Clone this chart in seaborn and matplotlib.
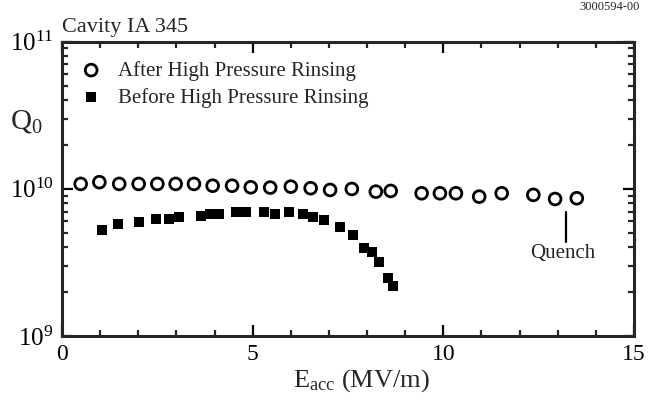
import matplotlib
matplotlib.use("Agg")
import matplotlib.pyplot as plt
import seaborn as sns
import pandas as pd
from matplotlib.ticker import MultipleLocator, LogLocator, NullFormatter, FixedLocator, FixedFormatter

# ---- data ----
E_after = [0.49, 0.98, 1.50, 2.01, 2.50, 2.98, 3.46, 3.95, 4.46, 4.95,
           5.46, 6.00, 6.52, 7.03, 7.60, 8.23, 8.62, 9.43, 9.91, 10.33,
           10.94, 11.53, 12.36, 12.93, 13.50]
Q_after = [1.08e10, 1.11e10, 1.08e10, 1.08e10, 1.08e10, 1.08e10, 1.08e10, 1.05e10, 1.05e10, 1.025e10,
           1.02e10, 1.035e10, 1.01e10, 0.983e10, 0.998e10, 0.957e10, 0.968e10, 0.933e10, 0.933e10, 0.933e10,
           0.885e10, 0.933e10, 0.91e10, 0.853e10, 0.863e10]

E_before = [1.04, 1.46, 2.01, 2.47, 2.80, 3.06, 3.64, 3.88, 4.11, 4.56, 4.82,
            5.30, 5.59, 5.94, 6.33, 6.57, 6.87, 7.29, 7.62, 7.92, 8.14, 8.31, 8.54, 8.67]
Q_before = [5.26e9, 5.78e9, 5.99e9, 6.25e9, 6.25e9, 6.48e9, 6.58e9, 6.75e9, 6.75e9, 7.0e9, 7.0e9,
            6.93e9, 6.72e9, 7.0e9, 6.75e9, 6.48e9, 6.15e9, 5.54e9, 4.86e9, 3.99e9, 3.74e9, 3.20e9, 2.47e9, 2.20e9]

label_after = "After High Pressure Rinsing"
label_before = "Before High Pressure Rinsing"
x_ticks = [0, 5, 10, 15]
x_tick_labels = ["0", "5", "10", "15"]
y_ticks = [1e9, 1e10, 1e11]
y_tick_labels = [r"$10^{9}$", r"$10^{10}$", r"$10^{11}$"]

sns.set_style("ticks")
plt.rcParams["font.family"] = ["Liberation Serif", "DejaVu Serif"]
plt.rcParams["mathtext.fontset"] = "custom"
plt.rcParams["mathtext.rm"] = "Liberation Serif"
plt.rcParams["mathtext.it"] = "Liberation Serif:italic"

df_after = pd.DataFrame({"E": E_after, "Q": Q_after})
df_before = pd.DataFrame({"E": E_before, "Q": Q_before})

fig = plt.figure(figsize=(6.5, 4.0), dpi=100)
ax = fig.add_axes([0.0954, 0.16, 0.88, 0.7358])

sns.scatterplot(data=df_after, x="E", y="Q", ax=ax, marker="o", s=72,
                facecolors="none", edgecolor="black", linewidth=2.0,
                label=label_after, zorder=3)
sns.scatterplot(data=df_before, x="E", y="Q", ax=ax, marker="s", s=50,
                color="black", linewidth=0, label=label_before, zorder=3)

ax.set_yscale("log")
ax.set_xlim(0, 15)
ax.set_ylim(1e9, 1e11)

ax.xaxis.set_major_locator(FixedLocator(x_ticks))
ax.xaxis.set_major_formatter(FixedFormatter(x_tick_labels))
ax.xaxis.set_minor_locator(MultipleLocator(1))
ax.yaxis.set_major_locator(FixedLocator(y_ticks))
ax.yaxis.set_major_formatter(FixedFormatter(y_tick_labels))
ax.yaxis.set_minor_locator(LogLocator(base=10, subs=range(2, 10), numticks=20))
ax.yaxis.set_minor_formatter(NullFormatter())

for s in ax.spines.values():
    s.set_linewidth(2.2)
    s.set_visible(True)
ax.tick_params(which="major", direction="in", length=8, width=1.6,
               top=True, right=True, labelsize=17, pad=6, colors="black")
ax.tick_params(axis="y", which="major", labelsize=18)
ax.tick_params(which="minor", direction="in", length=4.5, width=1.6,
               top=True, right=True)

ax.set_xlabel(r"E$_{\mathrm{acc}}$ (MV/m)", fontsize=19)
ax.xaxis.set_label_coords(0.523, -0.105)
ax.set_ylabel(r"Q$_0$", fontsize=21, rotation=0, ha="center", va="center")
ax.yaxis.set_label_coords(-0.062, 0.73)

ax.text(0.0, 1.015, "Cavity IA 345", transform=ax.transAxes, fontsize=16,
        ha="left", va="bottom")

# Quench annotation
ax.plot([13.22, 13.22], [7.0e9, 4.37e9], color="black", lw=1.6)
ax.text(13.14, 3.61e9, "Quench", fontsize=15, ha="center", va="center")

leg = ax.legend(loc="upper left", frameon=False, fontsize=15,
                bbox_to_anchor=(0.0, 0.985), handletextpad=0.6,
                borderaxespad=0.3, labelspacing=0.35, handlelength=1.4)

fig.text(0.985, 0.997, "3000594-00", fontsize=9, ha="right", va="top")

fig.savefig("out.png", dpi=100)
